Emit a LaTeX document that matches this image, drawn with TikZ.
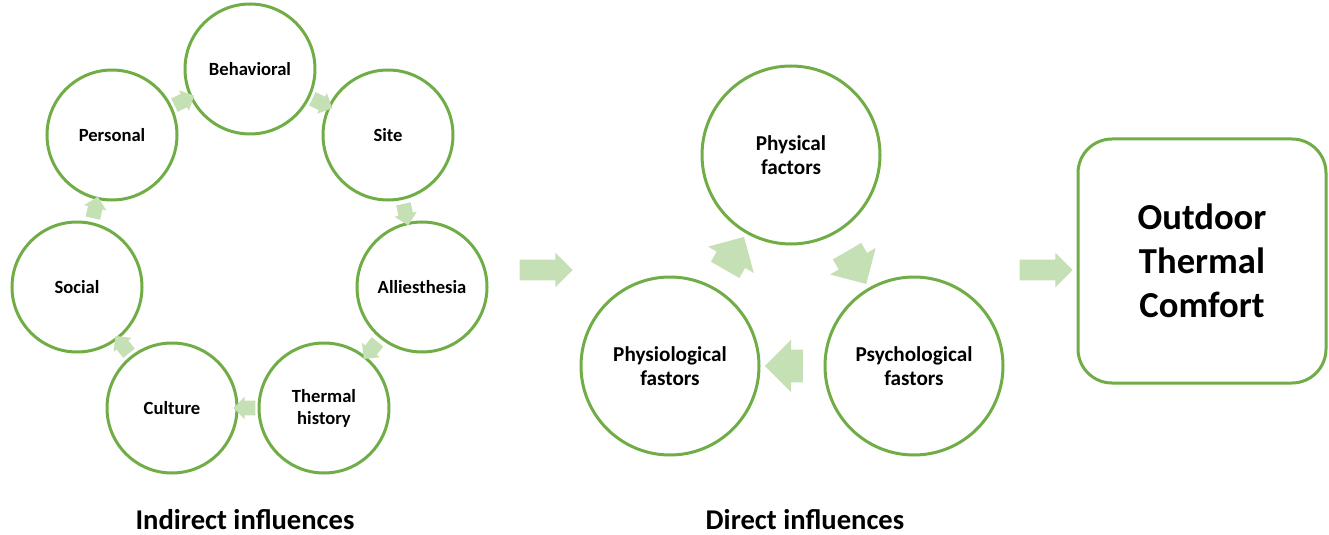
\documentclass[tikz,border=0pt]{standalone}
\usepackage{fontspec}
\setmainfont{Carlito}
\usetikzlibrary{shapes.arrows}

\definecolor{ringgreen}{HTML}{70AD47}
\definecolor{arrowgreen}{HTML}{C5E0B4}

\begin{document}
\begin{tikzpicture}[x=0.5pt,y=-0.5pt,
    factor/.style={circle,draw=ringgreen,line width=1.5pt,align=center,
      minimum size=65pt,inner sep=0pt,font=\fontsize{9.3}{11}\selectfont\bfseries},
    bigfactor/.style={factor,minimum size=89pt,font=\fontsize{10.6}{12}\selectfont\bfseries},
    blockarrow/.style={single arrow,fill=arrowgreen,draw=none,minimum width=0pt,
      inner xsep=0pt,sloped,allow upside down},
    smallarrow/.style={blockarrow,inner ysep=3.5pt,single arrow head extend=2pt,minimum height=11pt},
    midarrow/.style={blockarrow,inner ysep=8pt,single arrow head extend=5pt,minimum height=19pt},
    wide arrow/.style={single arrow,fill=arrowgreen,draw=none,minimum width=0pt,
      inner xsep=0pt,inner ysep=5pt,single arrow head extend=3.5pt,minimum height=26.5pt}]
  \useasboundingbox (0,0) rectangle (1329,535);

  % indirect influences
  \node[factor] (behavioral) at (250,69) {Behavioral};
  \node[factor] (site) at (388,135) {Site};
  \node[factor] (alliesthesia) at (422,287) {Alliesthesia};
  \node[factor] (thermal) at (324,408) {Thermal\\history};
  \node[factor] (culture) at (172,408) {Culture};
  \node[factor] (social) at (77,287) {Social};
  \node[factor] (personal) at (112,135) {Personal};

  \path (personal) -- node[smallarrow]{} (behavioral);
  \path (behavioral) -- node[smallarrow]{} (site);
  \path (site) -- node[smallarrow]{} (alliesthesia);
  \path (alliesthesia) -- node[smallarrow]{} (thermal);
  \path (thermal) -- node[smallarrow]{} (culture);
  \path (culture) -- node[smallarrow]{} (social);
  \path (social) -- node[smallarrow]{} (personal);

  \node[font=\fontsize{14.3}{16}\selectfont\bfseries] (indirect) at (245,520) {Indirect influences};

  \node[wide arrow] (toDirect) at (541,270) {};

  % direct influences
  \node[bigfactor] (physical) at (791,155) {Physical\\factors};
  \node[bigfactor] (psycho) at (914,366) {Psychological\\fastors};
  \node[bigfactor] (physio) at (670,366) {Physiological\\fastors};

  \path (physio) -- node[midarrow]{} (physical);
  \path (physical) -- node[midarrow]{} (psycho);
  \path (psycho) -- node[midarrow]{} (physio);

  \node[font=\fontsize{14.3}{16}\selectfont\bfseries] (direct) at (805,520) {Direct influences};

  \node[wide arrow] (toComfort) at (1041,270) {};

  \node[draw=ringgreen,line width=1.5pt,rounded corners=17pt,minimum width=124pt,
    minimum height=122pt,align=center,font=\fontsize{18.3}{22}\selectfont\bfseries]
    (comfort) at (1202,261) {Outdoor\\Thermal\\Comfort};
\end{tikzpicture}
\end{document}
